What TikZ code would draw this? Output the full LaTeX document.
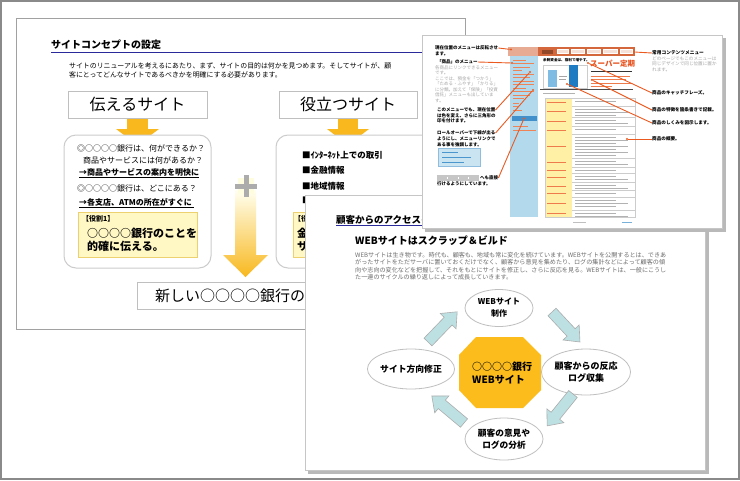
\documentclass[tikz,border=0pt]{standalone}
\usepackage{fontspec}
\newfontfamily\jp{Noto Sans CJK JP}
\usetikzlibrary{shapes.geometric}
\newcommand\jfs[1]{\fontsize{#1}{#1}\selectfont}
\definecolor{framec}{HTML}{8A8A8A}
\definecolor{navyc}{HTML}{2A2A9A}
\definecolor{orng}{HTML}{F8B81E}
\definecolor{yelfill}{HTML}{FFF8C4}
\definecolor{yeldraw}{HTML}{EDD070}
\definecolor{octc}{HTML}{FBBC1C}
\definecolor{cyanfill}{HTML}{BDE1E3}
\definecolor{redl}{HTML}{EA5A20}
\definecolor{hdr}{HTML}{D4673C}
\definecolor{navc}{HTML}{B3D9EC}
\definecolor{tblc}{HTML}{FFF0A6}
\definecolor{catchc}{HTML}{E8521E}
\definecolor{bar1}{HTML}{7FBCE4}
\definecolor{bar2}{HTML}{1F7CC2}
\begin{document}
\begin{tikzpicture}[x=1pt,y=-1pt,
 t/.style={inner sep=0, anchor=west},
 box/.style={draw=gray!50, fill=white, line width=0.8, inner sep=0, font=\jp\jfs{16}},
 rbox/.style={draw=gray!40, line width=1, fill=white, rounded corners=12},
 ybox/.style={fill=yelfill, draw=yeldraw, line width=0.8},
 ell/.style={ellipse, draw=gray!50, fill=white, line width=0.8, inner sep=0, align=center},
 barrow/.style={fill=cyanfill, draw=gray!65, line width=0.6, line join=miter},
 callout/.style={draw=redl, line width=0.9},
 cdot/.style={circle, fill=redl, inner sep=0, minimum size=2.4},
 sheet/.style={fill=white, draw=gray!45, line width=0.8},
 shadowc/.style={fill=gray!55},
 an/.style={t, font=\jp\bfseries\jfs{4.5}},
 ang/.style={t, font=\jp\jfs{4.5}, text=gray!70},
]
\useasboundingbox (0,0) rectangle (740,480);
\fill[white] (0,0) rectangle (740,480);

% ===== slide 1 =====
\draw[draw=framec!80, line width=1, fill=white] (16,18) rectangle (465,329);
\node[t, font=\jp\bfseries\jfs{10}] (s1title) at (51,45) {サイトコンセプトの設定};
\draw[navyc, line width=1] (51,52.5) -- (465,52.5);
\node[t, font=\jp\jfs{6.9}] (s1p1) at (69,66) {サイトのリニューアルを考えるにあたり、まず、サイトの目的は何かを見つめます。そしてサイトが、顧};
\node[t, font=\jp\jfs{6.9}] (s1p2) at (69,75) {客にとってどんなサイトであるべきかを明確にする必要があります。};

\fill[orng] (127,118) rectangle (148,129);
\fill[orng] (116,129) -- (159,129) -- (137.5,145) -- cycle;
\fill[orng] (338,118) rectangle (358,129);
\fill[orng] (327,129) -- (369,129) -- (348,145) -- cycle;

\node[box, minimum width=139, minimum height=27] (b1) at (137.5,104.5) {伝えるサイト};
\node[box, minimum width=138, minimum height=27] (b2) at (348,104.5) {役立つサイト};

\draw[rbox] (64,135) rectangle (211,268);
\draw[rbox] (276,135) rectangle (460,268);

\node[t, font=\jp\jfs{8}] (l1) at (77,148) {◎○○○○銀行は、何ができるか？};
\node[t, font=\jp\jfs{8}] (l2) at (83,160) {商品やサービスには何があるか？};
\node[t, font=\jp\bfseries\jfs{8}] (l3) at (79,172) {→商品やサービスの案内を明快に};
\draw[line width=0.6] (79,177) -- (199,177);
\node[t, font=\jp\jfs{8}] (l4) at (77,188) {◎○○○○銀行は、どこにある？};
\node[t, font=\jp\bfseries\jfs{8}] (l5) at (79,202) {→各支店、ATMの所在がすぐに};
\draw[line width=0.6] (79,207) -- (194,207);
\draw[ybox] (78,212) rectangle (197,257);
\node[t, font=\jp\bfseries\jfs{7}] (y1a) at (82,219) {【役割1】};
\node[t, font=\jp\bfseries\jfs{11}] (y1b) at (87,233) {○○○○銀行のことを};
\node[t, font=\jp\bfseries\jfs{11}] (y1c) at (87,246) {的確に伝える。};

\node[t, font=\jp\bfseries\jfs{8.5}] (r1) at (302,155) {■ｲﾝﾀｰﾈｯﾄ上での取引};
\node[t, font=\jp\bfseries\jfs{8.5}] (r2) at (302,170) {■金融情報};
\node[t, font=\jp\bfseries\jfs{8.5}] (r3) at (302,186) {■地域情報};
\node[t, font=\jp\bfseries\jfs{8.5}] (r4) at (302,200) {■};
\draw[ybox] (293,212) rectangle (420,257);
\node[t, font=\jp\bfseries\jfs{7}] (y2a) at (294,219) {【役割2】};
\node[t, font=\jp\bfseries\jfs{11}] (y2b) at (297,233) {金};
\node[t, font=\jp\bfseries\jfs{11}] (y2c) at (297,246) {サ};

\shade[top color=yellow!6!white, bottom color=orng] (235,190) -- (256,190) -- (256,255) -- (268,255) -- (245.5,277) -- (223,255) -- (235,255) -- cycle;
\fill[yellow!12!white] (238,178) rectangle (254,194);
\draw[gray!65, line width=5] (246,175) -- (246,197) (235,186) -- (257,186);

\draw[draw=gray!50, line width=0.8, fill=white] (137,282) rectangle (420,309);
\node[t, font=\jp\jfs{15}] (nb) at (155,296) {新しい○○○○銀行のサイト};

% ===== slide 3 =====
\fill[shadowc] (308,198) rectangle (709,474);
\draw[sheet] (305,195) rectangle (705,470);
\node[t, font=\jp\bfseries\jfs{9.5}] (s3title) at (336,219.5) {顧客からのアクセスを};
\draw[navyc, line width=1] (336,225) -- (690,225);
\node[t, font=\jp\bfseries\jfs{10}] (s3sub) at (355,241) {WEBサイトはスクラップ＆ビルド};
\node[t, font=\jp\jfs{6.1}, text=gray!85!black] (s3p1) at (355,255) {WEBサイトは生き物です。時代も、顧客も、地域も常に変化を続けています。WEBサイトを公開するとは、できあ};
\node[t, font=\jp\jfs{6.1}, text=gray!85!black] (s3p2) at (355,262.5) {がったサイトをただサーバに置いておくだけでなく、顧客から意見を集めたり、ログの集計などによって顧客の傾};
\node[t, font=\jp\jfs{6.1}, text=gray!85!black] (s3p3) at (355,270) {向や志向の変化などを把握して、それをもとにサイトを修正し、さらに反応を見る。WEBサイトは、一般にこうし};
\node[t, font=\jp\jfs{6.1}, text=gray!85!black] (s3p4) at (355,277.5) {た一連のサイクルの繰り返しによって成長していきます。};

\fill[octc] (476,337) -- (523,337) -- (541,355) -- (541,390) -- (523,408) -- (476,408) -- (459,390) -- (459,355) -- cycle;
\node[t, font=\jp\bfseries\jfs{10}] (o1) at (472,367) {○○○○銀行};
\node[t, font=\jp\bfseries\jfs{10}] (o2) at (472,380) {WEBサイト};

\node[ell, minimum width=68, minimum height=37, font=\jp\bfseries\fontsize{8}{12}\selectfont] (e1) at (499,308) {WEBサイト\\制作};
\node[ell, minimum width=78, minimum height=46, font=\jp\bfseries\fontsize{9}{12}\selectfont] (e2) at (586,372) {顧客からの反応\\ログ収集};
\node[ell, minimum width=77, minimum height=40, font=\jp\bfseries\fontsize{8.8}{12}\selectfont] (e3) at (411,369) {サイト方向修正};
\node[ell, minimum width=78, minimum height=42, font=\jp\bfseries\fontsize{8.7}{11.5}\selectfont] (e4) at (504,439) {顧客の意見や\\ログの分析};

\begin{scope}[shift={(428,342)}, rotate=46]
 \draw[barrow] (0,-5.5) -- (29,-5.5) -- (29,-11) -- (42,0) -- (29,11) -- (29,5.5) -- (0,5.5) -- cycle;
\end{scope}
\begin{scope}[shift={(552,312)}, rotate=-47]
 \draw[barrow] (0,-5.5) -- (28,-5.5) -- (28,-11) -- (41,0) -- (28,11) -- (28,5.5) -- (0,5.5) -- cycle;
\end{scope}
\begin{scope}[shift={(573,394)}, rotate=-129]
 \draw[barrow] (0,-5.5) -- (28,-5.5) -- (28,-11) -- (41,0) -- (28,11) -- (28,5.5) -- (0,5.5) -- cycle;
\end{scope}
\begin{scope}[shift={(464,423)}, rotate=140]
 \draw[barrow] (0,-5.5) -- (29,-5.5) -- (29,-11) -- (42,0) -- (29,11) -- (29,5.5) -- (0,5.5) -- cycle;
\end{scope}

% ===== slide 2 =====
\fill[shadowc] (425,38) rectangle (726,232);
\draw[sheet] (422,35) rectangle (722,228);

% header
\fill[hdr] (508,47) rectangle (635,56);
\fill[hdr!55] (508,47) rectangle (538,56);
\fill[hdr!70!black] (542,49.5) rectangle (553,53.5);
\foreach \a/\b in {557/568, 571/584, 587/600, 603/617, 620/632}
  \draw[white, line width=0.4, fill=white!80!hdr] (\a,49.5) rectangle (\b,53.5);
% nav column
\fill[navc] (510,56) rectangle (538,217);
\foreach \y/\e in {60/526,63.5/534,67/530,70.5/522,74/534,77.5/530,81/534,84.5/534,88/526,91.5/534,95/530,98.5/524}
  \draw[redl!75, line width=0.6] (513,\y) -- (\e,\y);
\foreach \y/\e in {103/519,106.5/518,110/522}
  \draw[redl!75, line width=0.6] (513,\y) -- (\e,\y);
\fill[bar2!85] (512,116) rectangle (537,120.5);
\foreach \y/\e in {126/528,130/536}
  \draw[redl!75, line width=0.6] (513,\y) -- (\e,\y);
% main
\node[t, font=\jp\bfseries\jfs{3.6}] (mhead) at (543,60.5) {余剰資金は、複利で増やす。};
\node[t, font=\jp\bfseries\jfs{7.5}, text=catchc] (mcatch) at (590,64) {スーパー定期};
\draw[black!80, line width=0.9] (591,71) -- (632,71);
\foreach \y/\e in {76/630,79.5/626,83/632,86.5/612}
  \draw[redl!80, line width=0.7] (591,\y) -- (\e,\y);
\draw[gray!40, line width=0.4] (543,65) rectangle (587,88);
\fill[bar1] (548,70) rectangle (557,87);
\fill[bar2] (569,65) rectangle (578,87);
\draw[gray!70, line width=0.5] (559,76) -- (567,76) (559,79) -- (566,79);
\draw[black!70, line width=0.7] (540,89.5) -- (633,89.5);
\draw[gray!60, line width=0.7] (543,93) -- (575,93);
% table
\foreach \a/\b/\n in {98/106/1, 106/117/3, 117/126/2, 126/134/1, 134/158/7, 158/167/2, 167/173/1, 173/182/2, 182/190/2, 190/197/1, 197/210/3, 210/217/2} {
  \fill[tblc] (545,\a) rectangle (572,\b);
  \draw[gray!40, line width=0.3] (545,\b) -- (635,\b);
  \draw[redl!80, line width=0.8] (547,{(\a+\b)/2}) -- (566,{(\a+\b)/2});
  \foreach \k in {1,...,\n}
    \draw[gray!60, line width=0.6] (575,{\a+3*\k}) -- ({628-12*mod(\k,2)},{\a+3*\k});
}
\draw[gray!40, line width=0.3] (545,98) rectangle (635,217);
\draw[gray!50, line width=0.5] (573,222) -- (586,222);
\draw[bar2!60, line width=0.5] (622,222) -- (632,222);

% left annotations
\node[an] (an1) at (435,48) {現在位置のメニューは反転させ};
\node[an] (an2) at (435,53.5) {ます。};
\node[an] (an3) at (437,62) {「商品」のメニュー};
\node[ang] (an4) at (435,68) {各商品にリンクできるメニュー};
\node[ang] (an5) at (435,73) {です。};
\node[ang] (an6) at (435,78.5) {ここでは、預金を「つかう」};
\node[ang] (an7) at (435,84) {「ためる・ふやす」「かりる」};
\node[ang] (an8) at (435,89.5) {に分類。加えて「保険」「投資};
\node[ang] (an9) at (435,95) {信託」メニューも出していま};
\node[ang] (an10) at (435,100.5) {す。};
\node[an] (an11) at (437,110) {このメニューでも、現在位置};
\node[an] (an12) at (437,115.5) {は色を変え、さらに三角形の};
\node[an] (an13) at (437,121) {印を付けます。};
\node[an] (an14) at (437,133) {ロールオーバーで下線が出る};
\node[an] (an15) at (437,139) {ようにし、メニューリンクで};
\node[an] (an16) at (437,145) {ある事を強調します。};
\draw[fill=navc!70, draw=bar2!50, line width=0.4] (438,148) rectangle (480,166.5);
\draw[bar2!80, line width=0.8] (442,152) -- (458,152) (442,157.2) -- (471,157.2) (442,162.4) -- (464,162.4);
\fill[gray!45] (437,175) rectangle (479,181);
\foreach \x in {447,458,468} \fill[white] (\x,177) rectangle ++(1,2);
\node[an] (an17) at (480,178) {へも直接};
\node[an] (an18) at (437,184) {行けるようにしています。};

% right annotations
\node[an, font=\jp\bfseries\jfs{4.7}] (ar1) at (652,53) {常用コンテンツメニュー};
\node[ang, font=\jp\jfs{4.6}] (ar2) at (652,58.5) {どのページでもこのメニューは};
\node[ang, font=\jp\jfs{4.6}] (ar3) at (652,64) {同じデザインで同じ位置に置か};
\node[ang, font=\jp\jfs{4.6}] (ar4) at (652,69.5) {れます。};
\node[an, font=\jp\bfseries\jfs{4.6}] (ar5) at (652,93) {商品のキャッチフレーズ。};
\node[an, font=\jp\bfseries\jfs{4.6}] (ar6) at (652,110) {商品の特徴を箇条書きで記載。};
\node[an, font=\jp\bfseries\jfs{4.6}] (ar7) at (652,123) {商品のしくみを図示します。};
\node[an, font=\jp\bfseries\jfs{4.6}] (ar8) at (652,139) {商品の概要。};

% callout dots and lines
\node[cdot] (d1) at (511,49.5) {};
\node[cdot] (d2) at (512,63) {};
\node[cdot] (d3) at (530,72) {};
\node[cdot] (d4) at (533,90) {};
\node[cdot] (d5) at (524,118.5) {};
\node[cdot] (d6) at (634,52) {};
\node[cdot] (d7) at (588,63) {};
\node[cdot] (d8) at (592,80) {};
\node[cdot] (d9) at (567,84) {};
\node[cdot] (d10) at (627,139) {};
\draw[callout] (an1.east) -- (d1);
\draw[callout] (an3.east) -- (d2);
\draw[callout] (an11.east) -- (d3);
\draw[callout] (an14.east) -- (d4);
\draw[callout] (an17.east) -- (d5);
\draw[callout] (d6) -- (ar1.west);
\draw[callout] (d7) -- (ar5.west);
\draw[callout] (d8) -- (ar6.west);
\draw[callout] (d9) -- (ar7.west);
\draw[callout] (d10) -- (ar8.west);

% outer frame
\draw[framec, line width=2] (1,1) rectangle (739,479);
\end{tikzpicture}
\end{document}
